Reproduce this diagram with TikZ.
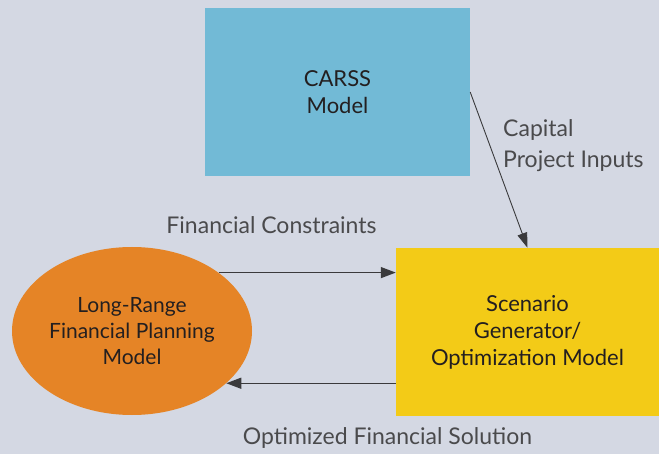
\documentclass[tikz,border=0pt]{standalone}
\usepackage{fontspec}
\setmainfont{Lato}
\usetikzlibrary{shapes.geometric,arrows.meta}
\definecolor{bgcol}{HTML}{D4D8E3}
\definecolor{carsscol}{HTML}{72BAD6}
\definecolor{scencol}{HTML}{F3CB17}
\definecolor{planscol}{HTML}{E58426}
\definecolor{inktext}{HTML}{231F20}
\definecolor{labeltext}{HTML}{4A4A4C}
\definecolor{wire}{HTML}{3A3A3C}
\tikzset{
  modelbox/.style={rectangle, inner sep=0pt, text=inktext, align=center,
    font=\fontsize{22}{27}\selectfont},
  flowlabel/.style={text=labeltext, inner sep=0pt,
    font=\fontsize{23}{31}\selectfont},
  flow/.style={draw=wire, line width=1.3pt,
    -{Triangle[length=15pt,width=11pt]}},
  thinflow/.style={draw=wire, line width=0.9pt,
    -{Triangle[length=15pt,width=10pt]}}
}
\begin{document}
\begin{tikzpicture}[x=1pt,y=-1pt]
  % canvas
  \fill[bgcol] (0,0) rectangle (659,454);
  \useasboundingbox (0,0) rectangle (659,454);

  % models
  \node[modelbox, fill=carsscol, minimum width=265pt, minimum height=168pt]
    (carss) at (337.5,92) {CARSS\\Model};
  \node[modelbox, fill=scencol, minimum width=263pt, minimum height=168pt]
    (scen) at (527.5,332) {Scenario\\Generator/\\Optimization Model};
  \node[modelbox, ellipse, fill=planscol, minimum width=240pt, minimum height=168pt,
    font=\fontsize{21}{26}\selectfont]
    (plan) at (132,331) {Long-Range\\Financial Planning\\Model};

  % flows
  \draw[thinflow] (carss.east) -- (scen.north);
  \draw[flow] (plan.34.8) -- (plan.34.8 -| scen.west);
  \draw[flow] (plan.-29 -| scen.west) -- (plan.-29);

  % flow labels (base anchor sits on the last line)
  \node[flowlabel, anchor=base west, align=left] (caplab) at (503,168)
    {Capital\\Project Inputs};
  \node[flowlabel, anchor=base] (conlab) at (271.5,234) {Financial Constraints};
  \node[flowlabel, anchor=base] (sollab) at (387.5,444) {Optimized Financial Solution};
\end{tikzpicture}
\end{document}
